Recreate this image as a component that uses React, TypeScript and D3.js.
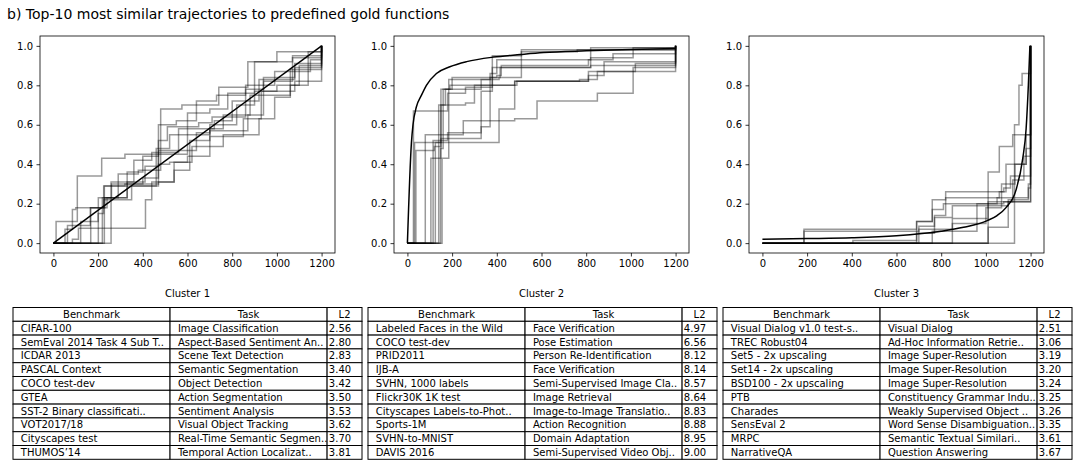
import { useEffect, useRef } from "react"
import * as d3 from "d3"

type Pt = [number, number]

// ---- trajectories (step points, x = epoch-ish index, y = normalized score) ----
const cluster1Traj: Pt[][] = [
  [[0, 0], [12, 0.11], [107, 0.34], [216, 0.43], [320, 0.45], [480, 0.68], [575, 0.7], [740, 0.79], [870, 0.92], [1000, 0.97], [1200, 1]],
  [[0, 0], [52, 0.07], [85, 0.17], [100, 0.18], [230, 0.23], [330, 0.29], [460, 0.48], [520, 0.55], [700, 0.58], [760, 0.65], [880, 0.75], [1060, 0.88], [1200, 1]],
  [[0, 0], [63, 0.09], [165, 0.18], [240, 0.23], [330, 0.36], [400, 0.44], [470, 0.47], [560, 0.58], [720, 0.62], [800, 0.72], [920, 0.83], [1080, 0.91], [1200, 1]],
  [[0, 0], [85, 0.02], [112, 0.075], [412, 0.22], [440, 0.31], [540, 0.37], [610, 0.52], [700, 0.57], [870, 0.65], [940, 0.82], [1070, 0.94], [1200, 1]],
  [[0, 0], [122, 0.11], [200, 0.15], [225, 0.22], [350, 0.29], [470, 0.4], [520, 0.41], [620, 0.49], [700, 0.54], [850, 0.63], [930, 0.77], [1080, 0.82], [1200, 1]],
  [[0, 0], [167, 0.18], [225, 0.29], [330, 0.31], [410, 0.39], [470, 0.6], [550, 0.62], [640, 0.72], [730, 0.75], [860, 0.8], [990, 0.87], [1150, 0.93], [1200, 1]],
  [[0, 0], [201, 0.23], [290, 0.35], [380, 0.37], [480, 0.45], [600, 0.66], [700, 0.68], [780, 0.76], [900, 0.92], [1070, 0.95], [1200, 1]],
  [[0, 0], [219, 0.23], [260, 0.3], [470, 0.31], [540, 0.41], [600, 0.44], [700, 0.49], [760, 0.55], [920, 0.63], [990, 0.74], [1060, 0.8], [1100, 0.9], [1200, 1]],
  [[0, 0], [228, 0.29], [320, 0.3], [400, 0.33], [470, 0.52], [510, 0.59], [650, 0.61], [710, 0.64], [860, 0.78], [940, 0.84], [1080, 0.89], [1200, 1]],
  [[0, 0], [258, 0.31], [360, 0.42], [440, 0.46], [560, 0.47], [640, 0.56], [700, 0.6], [820, 0.7], [900, 0.77], [1000, 0.8], [1140, 0.97], [1200, 1]],
]

const cluster2Traj: Pt[][] = [
  [[0, 0], [27, 0.67], [180, 0.76], [260, 0.79], [380, 0.95], [510, 0.97], [760, 0.98], [1200, 1]],
  [[0, 0], [32, 0.51], [150, 0.53], [330, 0.59], [370, 0.84], [415, 0.89], [820, 0.9], [1200, 1]],
  [[0, 0], [38, 0.47], [120, 0.49], [150, 0.78], [200, 0.84], [400, 0.85], [420, 0.9], [810, 0.93], [920, 0.96], [1200, 1]],
  [[0, 0], [80, 0.55], [180, 0.56], [330, 0.77], [380, 0.8], [480, 0.82], [770, 0.83], [850, 0.87], [1020, 0.91], [1200, 1]],
  [[0, 0], [105, 0.43], [150, 0.7], [260, 0.71], [300, 0.8], [490, 0.82], [810, 0.85], [880, 0.92], [1200, 1]],
  [[0, 0], [115, 0.52], [180, 0.55], [250, 0.62], [480, 0.63], [580, 0.72], [850, 0.76], [1010, 0.89], [1200, 1]],
  [[0, 0], [125, 0.51], [410, 0.68], [480, 0.82], [810, 0.87], [1200, 1]],
  [[0, 0], [140, 0.7], [170, 0.78], [330, 0.83], [410, 0.84], [510, 0.98], [1200, 1]],
  [[0, 0], [148, 0.48], [160, 0.78], [190, 0.8], [380, 0.89], [820, 0.99], [1200, 1]],
  [[0, 0], [155, 0.43], [185, 0.83], [370, 0.86], [400, 0.93], [820, 0.94], [1010, 0.99], [1200, 1]],
]

const cluster3Traj: Pt[][] = [
  [[0, 0], [1128, 0.6], [1148, 0.8], [1162, 0.86], [1200, 1]],
  [[0, 0], [1010, 0.21], [1100, 0.22], [1190, 0.3], [1200, 1]],
  [[0, 0], [186, 0.07], [690, 0.11], [760, 0.22], [820, 0.26], [1080, 0.28], [1110, 0.34], [1200, 1]],
  [[0, 0], [186, 0.06], [700, 0.085], [770, 0.14], [820, 0.23], [1060, 0.26], [1090, 0.4], [1180, 0.48], [1200, 1]],
  [[0, 0], [405, 0.013], [690, 0.05], [770, 0.13], [850, 0.19], [1100, 0.21], [1190, 0.21], [1200, 1]],
  [[0, 0], [690, 0.11], [760, 0.17], [810, 0.2], [1080, 0.21], [1120, 0.32], [1170, 0.44], [1200, 1]],
  [[0, 0], [850, 0.125], [1010, 0.36], [1060, 0.49], [1120, 0.55], [1190, 0.55], [1200, 1]],
  [[0, 0], [760, 0.06], [960, 0.2], [1050, 0.23], [1130, 0.23], [1190, 0.28], [1200, 1]],
  [[0, 0], [1010, 0.08], [1100, 0.21], [1200, 1]],
  [[0, 0], [700, 0.07], [850, 0.1], [1000, 0.18], [1070, 0.3], [1130, 0.4], [1180, 0.55], [1200, 1]],
]

// gold functions
const gold1: Pt[] = [[0, 0], [1200, 1]]
const gold2: Pt[] = [
  [0, 0], [18, 0.51], [25, 0.6], [40, 0.69], [63, 0.75], [85, 0.8], [130, 0.86], [190, 0.894],
  [265, 0.92], [385, 0.943], [505, 0.956], [609, 0.966], [800, 0.975], [1000, 0.982], [1200, 0.987],
]
const gold3: Pt[] = [
  [0, 0.02], [200, 0.023], [400, 0.027], [600, 0.037], [800, 0.06], [900, 0.08], [1006, 0.114],
  [1050, 0.14], [1090, 0.18], [1135, 0.27], [1165, 0.43], [1180, 0.58], [1190, 0.8], [1197, 1.0],
]

// ---- tables ----
const cluster1Bench = ["CIFAR-100", "SemEval 2014 Task 4 Sub T..", "ICDAR 2013", "PASCAL Context", "COCO test-dev", "GTEA", "SST-2 Binary classificati..", "VOT2017/18", "Cityscapes test", "THUMOS’14"]
const cluster1Task = ["Image Classification", "Aspect-Based Sentiment An..", "Scene Text Detection", "Semantic Segmentation", "Object Detection", "Action Segmentation", "Sentiment Analysis", "Visual Object Tracking", "Real-Time Semantic Segmen..", "Temporal Action Localizat.."]
const cluster1L2 = ["2.56", "2.80", "2.83", "3.40", "3.42", "3.50", "3.53", "3.62", "3.70", "3.81"]

const cluster2Bench = ["Labeled Faces in the Wild", "COCO test-dev", "PRID2011", "IJB-A", "SVHN, 1000 labels", "Flickr30K 1K test", "Cityscapes Labels-to-Phot..", "Sports-1M", "SVHN-to-MNIST", "DAVIS 2016"]
const cluster2Task = ["Face Verification", "Pose Estimation", "Person Re-Identification", "Face Verification", "Semi-Supervised Image Cla..", "Image Retrieval", "Image-to-Image Translatio..", "Action Recognition", "Domain Adaptation", "Semi-Supervised Video Obj.."]
const cluster2L2 = ["4.97", "6.56", "8.12", "8.14", "8.57", "8.64", "8.83", "8.88", "8.95", "9.00"]

const cluster3Bench = ["Visual Dialog v1.0 test-s..", "TREC Robust04", "Set5 - 2x upscaling", "Set14 - 2x upscaling", "BSD100 - 2x upscaling", "PTB", "Charades", "SensEval 2", "MRPC", "NarrativeQA"]
const cluster3Task = ["Visual Dialog", "Ad-Hoc Information Retrie..", "Image Super-Resolution", "Image Super-Resolution", "Image Super-Resolution", "Constituency Grammar Indu..", "Weakly Supervised Object ..", "Word Sense Disambiguation..", "Semantic Textual Similari..", "Question Answering"]
const cluster3L2 = ["2.51", "3.06", "3.19", "3.20", "3.24", "3.25", "3.26", "3.35", "3.61", "3.67"]

const headers = ["Benchmark", "Task", "L2"]
const xTicks = [0, 200, 400, 600, 800, 1000, 1200]
const yTicks = [0, 0.2, 0.4, 0.6, 0.8, 1.0]

const W = 1077
const H = 467
const FONT = "DejaVu Sans, sans-serif"

export default function App() {
  const svgRef = useRef<SVGSVGElement>(null)

  useEffect(() => {
    if (!svgRef.current) return
    const svg = d3.select(svgRef.current)
    svg.selectAll("*").remove()

    svg
      .append("text")
      .attr("x", 7)
      .attr("y", 19)
      .attr("font-size", "14px")
      .attr("font-family", FONT)
      .attr("fill", "black")
      .text("b) Top-10 most similar trajectories to predefined gold functions")

    const panels = [
      { left: 40, traj: cluster1Traj, gold: gold1, label: "Cluster 1" },
      { left: 394, traj: cluster2Traj, gold: gold2, label: "Cluster 2" },
      { left: 749, traj: cluster3Traj, gold: gold3, label: "Cluster 3" },
    ]
    const axW = 295
    const top = 36
    const axH = 217

    panels.forEach((p) => {
      const x = d3.scaleLinear().domain([-60, 1260]).range([p.left, p.left + axW])
      const y = d3.scaleLinear().domain([-0.05, 1.05]).range([top + axH, top])
      const g = svg.append("g")

      const step = d3
        .line<Pt>()
        .x((d) => x(d[0]))
        .y((d) => y(d[1]))
        .curve(d3.curveStepAfter)

      p.traj.forEach((t) => {
        g.append("path")
          .attr("d", step(t))
          .attr("fill", "none")
          .attr("stroke", "black")
          .attr("stroke-opacity", 0.4)
          .attr("stroke-width", 1.5)
      })

      const smooth = d3
        .line<Pt>()
        .x((d) => x(d[0]))
        .y((d) => y(d[1]))
        .curve(d3.curveMonotoneX)

      g.append("path")
        .attr("d", smooth(p.gold))
        .attr("fill", "none")
        .attr("stroke", "black")
        .attr("stroke-width", 1.5)

      // axes
      const xa = g
        .append("g")
        .attr("transform", `translate(0,${top + axH})`)
        .call(d3.axisBottom(x).tickValues(xTicks).tickSize(3.5).tickPadding(3.5).tickFormat(d3.format("d")))
      const ya = g
        .append("g")
        .attr("transform", `translate(${p.left},0)`)
        .call(d3.axisLeft(y).tickValues(yTicks).tickSize(3.5).tickPadding(3.5).tickFormat(d3.format(".1f")))
      ;[xa, ya].forEach((a) => {
        a.select(".domain").remove()
        a.selectAll("text").attr("font-size", "10px").attr("font-family", FONT).attr("fill", "black")
        a.selectAll("line").attr("stroke", "black").attr("stroke-width", 0.8)
      })

      g.append("rect")
        .attr("x", p.left)
        .attr("y", top)
        .attr("width", axW)
        .attr("height", axH)
        .attr("fill", "none")
        .attr("stroke", "black")
        .attr("stroke-width", 0.8)

      svg
        .append("text")
        .attr("x", p.left + axW / 2)
        .attr("y", 297)
        .attr("text-anchor", "middle")
        .attr("font-size", "10px")
        .attr("font-family", FONT)
        .text(p.label)
    })

    // tables
    const tables = [
      { left: 13, cols: [cluster1Bench, cluster1Task, cluster1L2] },
      { left: 368, cols: [cluster2Bench, cluster2Task, cluster2L2] },
      { left: 723, cols: [cluster3Bench, cluster3Task, cluster3L2] },
    ]
    const tW = 349
    const tTop = 307.5
    const rowH = 13.8
    const colFrac = [0.45, 0.45, 0.1]

    tables.forEach((t) => {
      const g = svg.append("g")
      const rows = d3.range(11)
      const yr = d3.scaleBand<number>().domain(rows).range([tTop, tTop + rowH * 11])
      let cx = t.left
      colFrac.forEach((f, ci) => {
        const cw = tW * f
        rows.forEach((r) => {
          g.append("rect")
            .attr("x", cx)
            .attr("y", yr(r)!)
            .attr("width", cw)
            .attr("height", rowH)
            .attr("fill", "white")
            .attr("stroke", "black")
            .attr("stroke-width", 1)
          const isHead = r === 0
          g.append("text")
            .attr("x", isHead ? cx + cw / 2 : cx + cw * 0.05)
            .attr("y", yr(r)! + rowH / 2)
            .attr("dy", "0.35em")
            .attr("text-anchor", isHead ? "middle" : "start")
            .attr("font-size", "10px")
            .attr("font-family", FONT)
            .text(isHead ? headers[ci] : t.cols[ci][r - 1])
        })
        cx += cw
      })
    })
  }, [])

  return (
    <div style={{ position: "absolute", left: 0, top: 0 }}>
      <svg ref={svgRef} width={W} height={H} style={{ display: "block", background: "white" }} />
    </div>
  )
}
